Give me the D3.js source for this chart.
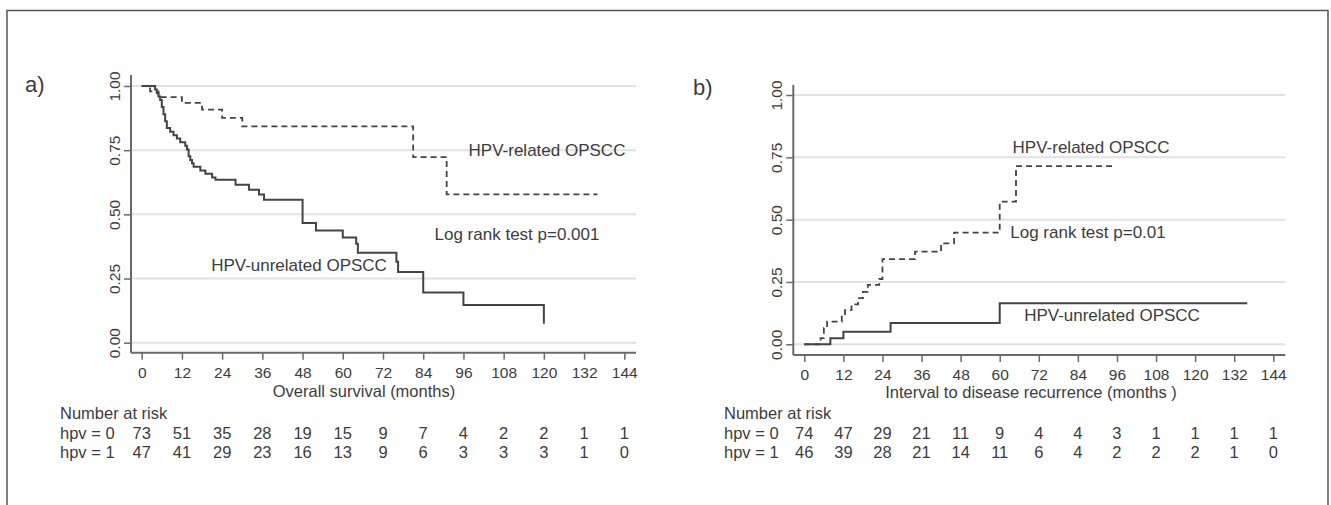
<!DOCTYPE html>
<html>
<head>
<meta charset="utf-8">
<script src="https://cdn.jsdelivr.net/npm/d3@7"></script>
<style>
  body { margin: 0; background: #fff; }
  svg { display: block; font-family: "Liberation Sans", Arial, sans-serif; }
</style>
</head>
<body>
<svg width="1331" height="505"></svg>
<script>
/* data */

var monthTicks = [0, 12, 24, 36, 48, 60, 72, 84, 96, 108, 120, 132, 144];
var probTicks = [0, 0.25, 0.5, 0.75, 1];

// a) overall survival, [month, survival]
var osUnrelated = [[0,1],[4,0.986],[4.5,0.973],[5,0.959],[5.5,0.945],[6,0.918],[6.5,0.89],[7,0.863],
  [7.5,0.836],[8.5,0.822],[9.5,0.808],[10.5,0.795],[11.5,0.781],[13,0.767],[13.5,0.753],[14,0.726],
  [14.5,0.712],[15,0.699],[15.5,0.685],[17.5,0.671],[19,0.658],[21,0.644],[22,0.635],[28,0.615],
  [32,0.596],[35,0.577],[36.5,0.557],[48,0.466],[52,0.437],[60,0.41],[64,0.385],[64.5,0.35],
  [76,0.315],[76.5,0.275],[84,0.196],[96,0.147],[120,0.074]];
var osRelated = [[0,1],[2.5,0.979],[5,0.957],[12,0.934],[18,0.908],[24,0.876],[30,0.843],
  [81,0.723],[91,0.578],[136,0.578]];

// b) disease recurrence, [month, cumulative]
var recUnrelated = [[0,0],[8,0.024],[12,0.05],[26.5,0.085],[60,0.165],[136,0.165]];
var recRelated = [[0,0],[5,0.025],[6,0.065],[7,0.091],[11.5,0.115],[12.5,0.137],[14.5,0.16],
  [16.5,0.185],[18,0.21],[19.5,0.238],[23,0.262],[24,0.342],[34,0.372],[42,0.405],[46,0.448],
  [60,0.572],[65,0.715],[95,0.715]];

var riskA0 = [73, 51, 35, 28, 19, 15, 9, 7, 4, 2, 2, 1, 1];
var riskA1 = [47, 41, 29, 23, 16, 13, 9, 6, 3, 3, 3, 1, 0];
var riskB0 = [74, 47, 29, 21, 11, 9, 4, 4, 3, 1, 1, 1, 1];
var riskB1 = [46, 39, 28, 21, 14, 11, 6, 4, 2, 2, 2, 1, 0];

var ink = "#3c3c3c";
var svg = d3.select("svg");

svg.append("rect")
  .attr("x", 7).attr("y", 10.5)
  .attr("width", 1321).attr("height", 520)
  .attr("fill", "#fff")
  .attr("stroke", "#555")
  .attr("stroke-width", 1.5);

function panel(p) {
  var g = svg.append("g");

  var x = d3.scaleLinear().domain([0, 144]).range([p.x0, p.x1]);
  var y = d3.scaleLinear().domain([0, 1]).range([p.y0, p.y1]);

  // gridlines
  g.selectAll(".grid")
    .data(probTicks)
    .enter().append("line")
    .attr("x1", p.axisX).attr("x2", p.axisEnd)
    .attr("y1", d => y(d)).attr("y2", d => y(d))
    .attr("stroke", "#e2e2e2")
    .attr("stroke-width", 2);

  // y axis
  var yAxis = g.append("g")
    .attr("transform", "translate(" + p.axisX + ",0)")
    .call(d3.axisLeft(y).tickValues(probTicks).tickSize(7).tickFormat(d3.format(".2f")));
  yAxis.select(".domain").attr("d", "M0," + p.axisTop + "V" + p.axisY);
  yAxis.selectAll("text")
    .attr("x", null).attr("dy", null)
    .attr("transform", "translate(-17,0) rotate(-90)")
    .attr("text-anchor", "middle")
    .attr("dominant-baseline", "central")
    .attr("font-size", "15.5px");

  // x axis
  var xAxis = g.append("g")
    .attr("transform", "translate(0," + p.axisY + ")")
    .call(d3.axisBottom(x).tickValues(monthTicks).tickSize(7));
  xAxis.select(".domain").attr("d", "M" + p.axisX + ",0H" + p.axisEnd);
  xAxis.selectAll("text")
    .attr("y", 25).attr("dy", null)
    .attr("font-size", "15.5px");

  [yAxis, xAxis].forEach(function (a) {
    a.attr("font-family", null);
    a.select(".domain").attr("stroke", "#6a6a6a").attr("stroke-width", 2);
    a.selectAll(".tick line").attr("stroke", "#6a6a6a").attr("stroke-width", 1.5);
    a.selectAll("text").attr("fill", ink);
  });

  // curves
  var line = d3.line()
    .x(d => x(d[0]))
    .y(d => y(d[1]))
    .curve(d3.curveStepAfter);

  g.append("path")
    .attr("d", line(p.dashed))
    .attr("fill", "none")
    .attr("stroke", "#444")
    .attr("stroke-width", 1.8)
    .attr("stroke-dasharray", "6,4");

  g.append("path")
    .attr("d", line(p.solid))
    .attr("fill", "none")
    .attr("stroke", "#444")
    .attr("stroke-width", 2);

  // labels
  g.append("text").text(p.tag)
    .attr("x", p.tagX).attr("y", p.tagY)
    .attr("font-size", "22px").attr("fill", ink);

  g.append("text").text(p.title)
    .attr("x", p.titleX).attr("y", p.titleY)
    .attr("text-anchor", "middle")
    .attr("font-size", "16.5px").attr("fill", ink);

  p.notes.forEach(function (n) {
    g.append("text").text(n[0])
      .attr("x", n[1]).attr("y", n[2])
      .attr("text-anchor", "middle")
      .attr("font-size", "17px").attr("fill", ink);
  });

  // number at risk table
  g.append("text").text("Number at risk")
    .attr("x", p.tableX).attr("y", 419)
    .attr("font-size", "16.5px").attr("fill", ink);

  [[p.risk0, "hpv = 0", 439], [p.risk1, "hpv = 1", 458]].forEach(function (r) {
    g.append("text").text(r[1])
      .attr("x", p.tableX).attr("y", r[2])
      .attr("font-size", "16.5px").attr("fill", ink);
    g.selectAll(null)
      .data(r[0])
      .enter().append("text")
      .text(d => d)
      .attr("x", (d, i) => x(monthTicks[i]))
      .attr("y", r[2])
      .attr("text-anchor", "middle")
      .attr("font-size", "16.5px").attr("fill", ink);
  });
}

panel({
  x0: 141.7, x1: 624.3, y0: 342.7, y1: 86,
  axisX: 131, axisEnd: 636, axisTop: 75, axisY: 352.7,
  solid: osUnrelated, dashed: osRelated,
  tag: "a)", tagX: 25, tagY: 92,
  title: "Overall survival (months)", titleX: 364, titleY: 397,
  notes: [["HPV-related OPSCC", 547, 156], ["Log rank test p=0.001", 517, 239.5], ["HPV-unrelated OPSCC", 299, 270.5]],
  tableX: 60, risk0: riskA0, risk1: riskA1
});

panel({
  x0: 804.3, x1: 1273.3, y0: 344.3, y1: 95,
  axisX: 793.3, axisEnd: 1285.3, axisTop: 85, axisY: 355,
  solid: recUnrelated, dashed: recRelated,
  tag: "b)", tagX: 693, tagY: 95,
  title: "Interval to disease recurrence (months )", titleX: 1031, titleY: 398,
  notes: [["HPV-related OPSCC", 1091, 153], ["Log rank test p=0.01", 1088, 238], ["HPV-unrelated OPSCC", 1112, 321]],
  tableX: 724, risk0: riskB0, risk1: riskB1
});
</script>
</body>
</html>
